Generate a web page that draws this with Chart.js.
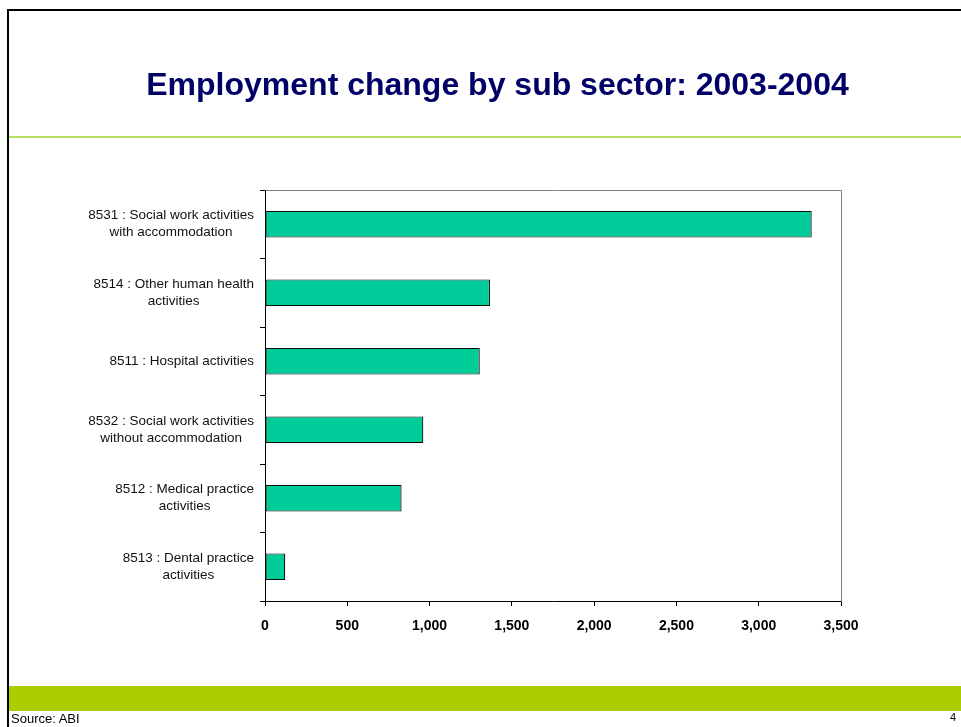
<!DOCTYPE html>
<html>
<head>
<meta charset="utf-8">
<script src="https://cdn.jsdelivr.net/npm/chart.js@4/dist/chart.umd.min.js"></script>
<style>
  html, body { margin: 0; padding: 0; background: #fff; }
  #slide { position: relative; width: 961px; height: 727px; overflow: hidden; font-family: "Liberation Sans", Arial, sans-serif; }
  #chart { position: absolute; left: 0; top: 0; }
  .rule { position: absolute; }
  #frameLeft { left: 7px; top: 9px; width: 2px; height: 718px; background: #000; }
  #frameTop { left: 7px; top: 9px; width: 954px; height: 2px; background: #000; }
  #titleRule { left: 9px; top: 136px; width: 952px; height: 2px; background: #b5e061; }
  #band { left: 9px; top: 686px; width: 952px; height: 25px; background: #aacc00; }
  #title { position: absolute; left: 0; width: 995px; top: 66px; text-align: center; font-weight: bold; font-size: 32px; color: #000066; white-space: nowrap; }
  #source { position: absolute; left: 11px; top: 711px; font-size: 13px; color: #000; }
  #page { position: absolute; left: 950px; top: 711px; font-size: 11px; color: #000; }
</style>
</head>
<body>
<div id="slide">
  <canvas id="chart" width="961" height="727"></canvas>
  <div class="rule" id="frameLeft"></div>
  <div class="rule" id="frameTop"></div>
  <div class="rule" id="titleRule"></div>
  <div class="rule" id="band"></div>
  <div id="title">Employment change by sub sector: 2003-2004</div>
  <div id="source">Source: ABI</div>
  <div id="page">4</div>
</div>
<script>
// Sub sectors, top to bottom, each split into its display lines
const sectors = [
  ["8531 : Social work activities", "with accommodation"],
  ["8514 : Other human health", "activities"],
  ["8511 : Hospital activities"],
  ["8532 : Social work activities", "without accommodation"],
  ["8512 : Medical practice", "activities"],
  ["8513 : Dental practice", "activities"]
];
// Change in employment, 2003 to 2004
const employmentChange = [3322, 1367, 1305, 962, 830, 123];
// Value axis
const axisMin = 0;
const axisMax = 3500;
const axisStep = 500;

const LABEL_FONT = '13.5px "Liberation Sans", Arial, sans-serif';

// Grey frame on the top and right of the plot area
const plotFrame = {
  id: 'plotFrame',
  afterDraw(chart) {
    const { ctx, chartArea: a } = chart;
    ctx.save();
    ctx.strokeStyle = '#808080';
    ctx.lineWidth = 1;
    ctx.beginPath();
    ctx.moveTo(Math.round(a.left) + 0.5, Math.round(a.top) + 0.5);
    ctx.lineTo(Math.round(a.right) + 0.5, Math.round(a.top) + 0.5);
    ctx.lineTo(Math.round(a.right) + 0.5, Math.round(a.bottom) + 0.5);
    ctx.stroke();
    ctx.restore();
  }
};

// Category labels: each block centred on itself, blocks right-aligned to the axis
const categoryLabels = {
  id: 'categoryLabels',
  afterDraw(chart) {
    const { ctx } = chart;
    const y = chart.scales.y;
    const lineH = 17;
    const rightEdge = y.right - 11;
    ctx.save();
    ctx.font = LABEL_FONT;
    ctx.fillStyle = '#111';
    ctx.textAlign = 'center';
    ctx.textBaseline = 'middle';
    chart.data.labels.forEach((lines, i) => {
      const cy = y.getPixelForValue(i);
      const w = Math.max(...lines.map(l => ctx.measureText(l).width));
      const cx = rightEdge - w / 2;
      const top = cy - (lines.length - 1) * lineH / 2;
      lines.forEach((l, j) => ctx.fillText(l, cx, top + j * lineH));
    });
    ctx.restore();
  }
};

new Chart(document.getElementById('chart'), {
  type: 'bar',
  data: {
    labels: sectors,
    datasets: [{
      data: employmentChange,
      backgroundColor: '#00cc99',
      borderColor: '#0a0a0a',
      borderWidth: 1.2,
      borderSkipped: false,
      categoryPercentage: 1,
      barPercentage: 0.39
    }]
  },
  options: {
    indexAxis: 'y',
    responsive: false,
    animation: false,
    devicePixelRatio: 1,
    layout: { padding: { left: 0, right: 120, top: 190, bottom: 86 } },
    plugins: { legend: { display: false }, tooltip: { enabled: false }, title: { display: false } },
    scales: {
      y: {
        grid: { display: true, drawOnChartArea: false, offset: true, tickLength: 5, color: '#000', lineWidth: 1 },
        border: { display: true, color: '#000', width: 1 },
        ticks: { display: false },
        afterFit(scale) { scale.width = 265; }
      },
      x: {
        type: 'linear',
        min: axisMin,
        max: axisMax,
        grid: { display: true, drawOnChartArea: false, tickLength: 5, color: '#000', lineWidth: 1 },
        border: { display: true, color: '#000', width: 1 },
        ticks: {
          stepSize: axisStep,
          color: '#000',
          padding: 12,
          font: { family: '"Liberation Sans", Arial, sans-serif', size: 14, weight: 'bold' },
          callback: v => v.toLocaleString('en-US')
        },
        afterFit(scale) { scale.height = 40; }
      }
    }
  },
  plugins: [plotFrame, categoryLabels]
});
</script>
</body>
</html>
